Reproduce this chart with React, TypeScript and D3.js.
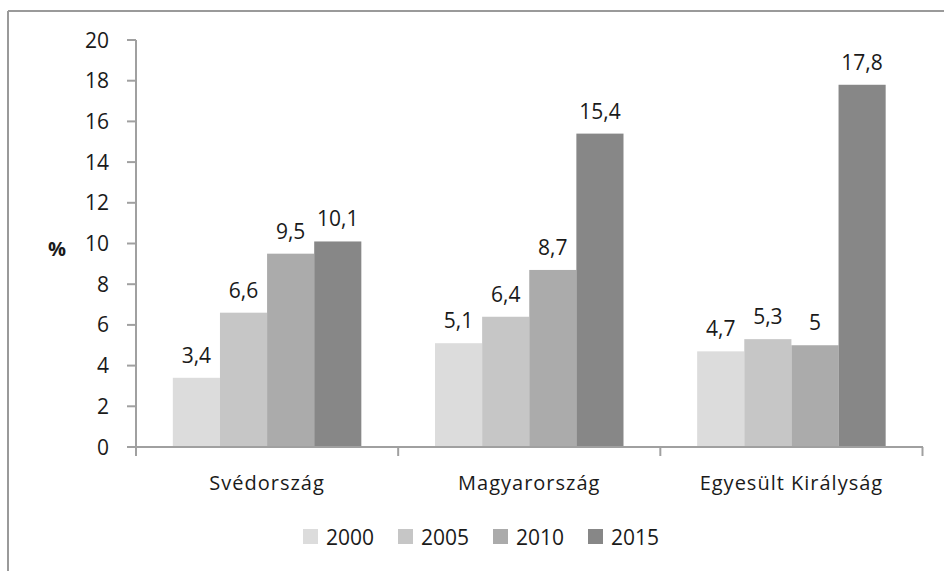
import React from "react";
import * as d3 from "d3";

const categories = ["Svédország", "Magyarország", "Egyesült Királyság"];
const seriesNames = ["2000", "2005", "2010", "2015"];
const v2000 = [3.4, 5.1, 4.7];
const v2005 = [6.6, 6.4, 5.3];
const v2010 = [9.5, 8.7, 5];
const v2015 = [10.1, 15.4, 17.8];
const yTicks = [0, 2, 4, 6, 8, 10, 12, 14, 16, 18, 20];
const colors = ["#dcdcdc", "#c6c6c6", "#ababab", "#878787"];

const W = 944;
const H = 571;
const FONT = "'Open Sans', 'DejaVu Sans', sans-serif";

export default function App() {
  const series = [v2000, v2005, v2010, v2015];
  const x0 = d3.scaleBand<string>().domain(categories).range([136, 922.5]).paddingInner(0).paddingOuter(0);
  const groupFrac = 0.719;
  const x1 = d3
    .scaleBand<string>()
    .domain(seriesNames)
    .range([0, x0.bandwidth() * groupFrac])
    .padding(0);
  const groupOffset = (x0.bandwidth() * (1 - groupFrac)) / 2;
  const y = d3.scaleLinear().domain([0, 20]).range([447, 40]);
  const fmt = (v: number) => String(v).replace(".", ",");
  const axisColor = "#a0a0a0";
  const legendX = [303, 398, 493, 588];

  return (
    <svg width={W} height={H} style={{ position: "absolute", left: 0, top: 0, background: "#fff" }}>
      <rect x={0} y={0} width={W} height={H} fill="#fff" />
      {/* frame */}
      <line x1={8} y1={11} x2={W} y2={11} stroke="#9a9a9a" strokeWidth={2} />
      <line x1={8} y1={11} x2={8} y2={H} stroke="#9a9a9a" strokeWidth={2} />

      {/* bars */}
      {categories.map((c, ci) => (
        <g key={c}>
          {series.map((s, si) => {
            const bx = (x0(c) as number) + groupOffset + (x1(seriesNames[si]) as number);
            const bw = x1.bandwidth();
            const v = s[ci];
            return (
              <g key={si}>
                <rect x={bx} y={y(v)} width={bw} height={y(0) - y(v)} fill={colors[si]} />
                <text
                  x={bx + bw / 2}
                  y={y(v) - 15}
                  textAnchor="middle"
                  fontFamily={FONT}
                  fontSize={21}
                  fill="#1a1a1a"
                >
                  {fmt(v)}
                </text>
              </g>
            );
          })}
        </g>
      ))}

      {/* y axis */}
      <line x1={136} y1={y(20)} x2={136} y2={y(0) + 1} stroke={axisColor} strokeWidth={2} />
      {yTicks.map((t) => (
        <g key={t}>
          <line x1={127} y1={y(t)} x2={136} y2={y(t)} stroke={axisColor} strokeWidth={2} />
          <text
            x={109}
            y={y(t)}
            dy="0.36em"
            textAnchor="end"
            fontFamily={FONT}
            fontSize={21}
            fill="#1a1a1a"
          >
            {t}
          </text>
        </g>
      ))}
      <text x={57} y={248.5} dy="0.36em" textAnchor="middle" fontFamily={FONT} fontSize={20} fontWeight="bold" fill="#1a1a1a">
        %
      </text>

      {/* x axis */}
      <line x1={135} y1={y(0)} x2={923} y2={y(0)} stroke={axisColor} strokeWidth={2} />
      {[0, 1, 2, 3].map((i) => {
        const xx = i < 3 ? (x0(categories[i]) as number) : 922.5;
        return <line key={i} x1={xx} y1={y(0)} x2={xx} y2={456} stroke={axisColor} strokeWidth={2} />;
      })}
      {categories.map((c) => (
        <text
          key={c}
          x={(x0(c) as number) + x0.bandwidth() / 2}
          y={490}
          textAnchor="middle"
          fontFamily={FONT}
          fontSize={20}
          letterSpacing={1}
          fill="#1a1a1a"
        >
          {c}
        </text>
      ))}

      {/* legend */}
      {seriesNames.map((n, i) => (
        <g key={n}>
          <rect x={legendX[i]} y={529} width={15} height={15} fill={colors[i]} />
          <text x={legendX[i] + 23} y={537} dy="0.36em" fontFamily={FONT} fontSize={21} fill="#1a1a1a">
            {n}
          </text>
        </g>
      ))}
    </svg>
  );
}
